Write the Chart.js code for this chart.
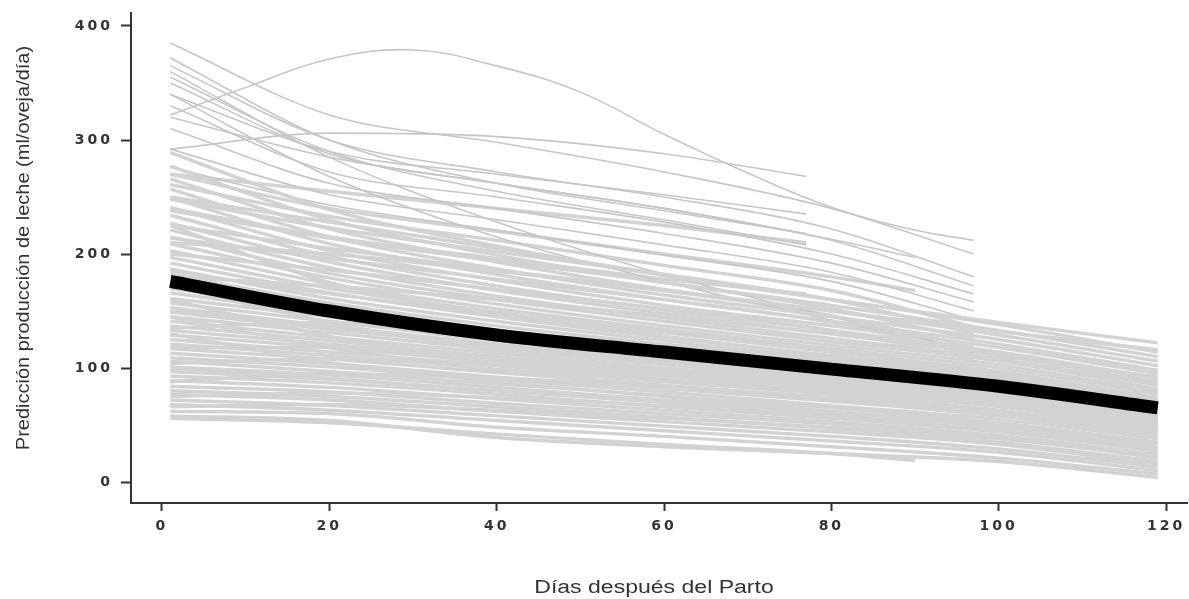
<!DOCTYPE html>
<html>
<head>
<meta charset="utf-8">
<script src="https://cdn.jsdelivr.net/npm/chart.js@4.4.1/dist/chart.umd.min.js"></script>
<style>
  html, body { margin: 0; padding: 0; background: #fff; }
</style>
</head>
<body>
<canvas id="grafico" width="1189" height="599"></canvas>
<script>
// dias de lactancia en que se leen las curvas
const dias = [1, 20, 40, 60, 80, 100, 119];
const dias97 = [1, 20, 40, 60, 80, 97];
const dias90 = [1, 20, 40, 60, 80, 90];
const dias77 = [1, 20, 40, 60, 77];
const diasPico = [1, 10, 20, 30, 40, 50, 60, 70, 80, 90, 97];

// curva media (linea negra)
const media = [176, 150, 129, 114, 99, 84, 65];

// curva individual con pico hacia los 30 dias
const curvaPico = [322, 346, 371, 379, 365, 342, 305, 271, 241, 221, 212];

// ovejas con lactancia completa, debajo de la media
const curvasBajas = [
  [58, 54, 39, 31, 25, 18, 4],
  [62, 60, 48, 40, 31, 21, 7],
  [66, 68, 63, 56, 48, 38, 22],
  [68, 63, 54, 45, 36, 26, 10],
  [72, 67, 58, 49, 40, 29, 13],
  [75, 78, 74, 67, 58, 45, 28],
  [77, 72, 62, 53, 44, 33, 15],
  [80, 75, 66, 57, 47, 35, 18],
  [84, 79, 69, 60, 51, 40, 21],
  [88, 95, 91, 84, 74, 60, 44],
  [89, 83, 73, 63, 53, 41, 24],
  [93, 87, 77, 66, 56, 44, 27],
  [97, 90, 80, 70, 60, 48, 30],
  [101, 94, 83, 72, 62, 50, 33],
  [104, 108, 104, 95, 83, 69, 50],
  [106, 97, 86, 76, 65, 52, 35],
  [109, 101, 90, 79, 67, 55, 38],
  [113, 104, 92, 82, 71, 58, 40],
  [117, 108, 96, 85, 73, 60, 42],
  [118, 118, 108, 97, 86, 72, 56],
  [121, 111, 99, 88, 77, 63, 45],
  [125, 114, 102, 90, 79, 66, 47],
  [129, 118, 105, 93, 81, 68, 49],
  [130, 105, 88, 75, 62, 48, 30],
  [133, 121, 108, 95, 83, 70, 51],
  [137, 124, 110, 98, 86, 72, 53],
  [141, 127, 113, 100, 88, 74, 55],
  [145, 118, 98, 84, 72, 58, 40],
  [145, 131, 116, 103, 90, 76, 57],
  [149, 134, 119, 106, 92, 78, 58],
  [153, 137, 121, 108, 95, 80, 60],
  [157, 141, 124, 111, 97, 82, 61],
  [160, 128, 106, 90, 77, 62, 45],
  [161, 145, 127, 113, 99, 83, 63],
  [166, 147, 130, 115, 100, 85, 64],
  [170, 150, 132, 117, 102, 86, 62],
  [172, 140, 115, 98, 84, 70, 52]
];

// ovejas con lactancia completa, encima de la media
const curvasAltas = [
  [135, 140, 132, 119, 104, 88, 68],
  [180, 172, 160, 146, 130, 112, 92],
  [182, 157, 137, 121, 106, 90, 67],
  [187, 161, 141, 124, 108, 92, 70],
  [192, 166, 145, 127, 111, 95, 72],
  [197, 170, 149, 131, 114, 97, 74],
  [203, 174, 152, 134, 117, 100, 77],
  [210, 200, 185, 168, 150, 132, 116],
  [209, 179, 156, 137, 120, 103, 79],
  [215, 183, 160, 141, 123, 106, 82],
  [221, 188, 163, 144, 126, 108, 85],
  [225, 175, 148, 128, 110, 93, 70],
  [227, 193, 168, 148, 130, 111, 88],
  [234, 198, 172, 151, 133, 114, 91],
  [241, 203, 177, 155, 137, 118, 95],
  [249, 209, 182, 160, 141, 121, 98],
  [250, 228, 205, 182, 160, 140, 122],
  [257, 215, 187, 164, 145, 125, 102],
  [266, 222, 193, 169, 150, 129, 106],
  [277, 230, 199, 175, 155, 133, 110],
  [289, 239, 207, 181, 160, 138, 114],
  [340, 268, 215, 176, 142, 112, 86],
  [360, 285, 228, 182, 145, 110, 80]
];

// lactancias que terminan antes
const curvas97 = [
  [385, 322, 298, 272, 240, 200],
  [365, 300, 272, 250, 222, 180],
  [350, 288, 262, 240, 212, 172],
  [330, 272, 250, 228, 200, 165],
  [310, 262, 240, 218, 192, 158],
  [292, 252, 230, 208, 184, 150],
  [276, 243, 221, 199, 176, 142],
  [261, 233, 212, 190, 168, 136],
  [248, 223, 202, 182, 160, 130],
  [238, 214, 194, 175, 152, 125],
  [225, 205, 186, 168, 146, 118],
  [214, 196, 178, 160, 140, 112],
  [200, 186, 169, 152, 133, 108]
];
const curvas90 = [
  [56, 52, 42, 33, 25, 19],
  [320, 285, 262, 240, 213, 197],
  [270, 240, 220, 200, 180, 168],
  [150, 136, 119, 105, 93, 84],
  [100, 91, 80, 70, 58, 50],
  [185, 165, 148, 132, 116, 105]
];
const curvas77 = [
  [292, 306, 303, 288, 268],
  [372, 300, 262, 238, 218],
  [355, 290, 255, 230, 208],
  [340, 290, 270, 252, 235],
  [270, 255, 240, 225, 210],
  [240, 215, 196, 178, 165]
];

const ticksX = [0, 20, 40, 60, 80, 100, 120];
const ticksY = [0, 100, 200, 300, 400];

function serie(xs, ys) {
    return xs.map((x, i) => ({ x: x, y: ys[i] }));
}

// banda densa: trazo ancho y claro; curvas sueltas de arriba: trazo fino
const grisDenso = {
    borderColor: '#d2d2d2',
    borderWidth: 3.4,
    pointRadius: 0,
    cubicInterpolationMode: 'monotone',
    order: 1
};
const grisFino = {
    borderColor: '#c6c6c6',
    borderWidth: 1.6,
    pointRadius: 0,
    cubicInterpolationMode: 'monotone',
    order: 1
};

const datasets = [{
    label: 'Media',
    data: serie(dias, media),
    borderColor: '#000000',
    borderWidth: 13,
    pointRadius: 0,
    cubicInterpolationMode: 'monotone',
    order: 0
}];
curvasBajas.forEach(c => datasets.push({ ...grisDenso, data: serie(dias, c) }));
curvasAltas.forEach(c => datasets.push({ ...(c[0] > 300 ? grisFino : grisDenso), data: serie(dias, c) }));
curvas97.forEach(c => datasets.push({ ...(c[0] > 270 ? grisFino : grisDenso), data: serie(dias97, c) }));
curvas90.forEach(c => datasets.push({ ...(c[0] > 270 ? grisFino : grisDenso), data: serie(dias90, c) }));
curvas77.forEach(c => datasets.push({ ...(c[0] > 270 ? grisFino : grisDenso), data: serie(dias77, c) }));
datasets.push({ ...grisFino, cubicInterpolationMode: 'default', tension: 0.4, data: serie(diasPico, curvaPico) });

const fuenteTicks = { family: 'DejaVu Sans', size: 14, weight: 'bold' };

// separa los digitos de los ejes y dibuja los titulos (letra ancha)
const titulos = {
    id: 'titulos',
    beforeDraw(chart) {
        chart.ctx.letterSpacing = '3px';
    },
    afterDraw(chart) {
        const ctx = chart.ctx;
        ctx.save();
        ctx.letterSpacing = '0px';
        ctx.fillStyle = '#333333';
        ctx.textAlign = 'center';
        ctx.textBaseline = 'middle';
        ctx.save();
        ctx.translate(654, 588);
        ctx.scale(1.28, 1);
        ctx.font = '18px "Liberation Sans"';
        ctx.fillText('Días después del Parto', 0, 0);
        ctx.restore();
        ctx.translate(24, 248);
        ctx.rotate(-Math.PI / 2);
        ctx.scale(1.11, 1);
        ctx.font = '18px "Liberation Sans"';
        ctx.fillText('Predicción producción de leche (ml/oveja/día)', 0, 0);
        ctx.restore();
    }
};

const ctx = document.getElementById('grafico').getContext('2d');
const grafico = new Chart(ctx, {
    type: 'line',
    data: { datasets: datasets },
    options: {
        responsive: false,
        animation: false,
        layout: { padding: { top: 13, right: 2, left: 0, bottom: 0 } },
        plugins: {
            legend: { display: false },
            tooltip: { enabled: false }
        },
        scales: {
            x: {
                type: 'linear',
                min: -3.7,
                max: 122.5,
                afterBuildTicks: s => { s.ticks = ticksX.map(v => ({ value: v })); },
                afterFit: s => { s.height = 96; s.paddingLeft = 0; s.paddingRight = 0; },
                border: { color: '#333333', width: 2 },
                grid: { drawOnChartArea: false, tickLength: 8, tickColor: '#333333', tickWidth: 2 },
                ticks: { color: '#333333', font: fuenteTicks, padding: 7, maxRotation: 0 }
            },
            y: {
                type: 'linear',
                min: -18.4,
                max: 411.4,
                afterBuildTicks: s => { s.ticks = ticksY.map(v => ({ value: v })); },
                afterFit: s => { s.width = 131; s.paddingTop = 0; s.paddingBottom = 0; },
                border: { color: '#333333', width: 2 },
                grid: { drawOnChartArea: false, tickLength: 10, tickColor: '#333333', tickWidth: 2 },
                ticks: { color: '#333333', font: fuenteTicks, padding: 8 }
            }
        }
    },
    plugins: [titulos]
});
</script>
</body>
</html>
